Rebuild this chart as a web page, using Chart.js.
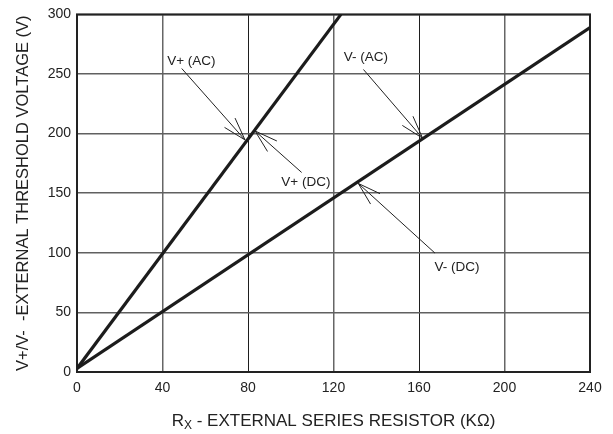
<!DOCTYPE html>
<html>
<head>
<meta charset="utf-8">
<script src="https://cdn.jsdelivr.net/npm/chart.js@4"></script>
<style>
  html, body { margin: 0; padding: 0; background: #fff; }
  canvas { display: block; }
</style>
</head>
<body>
<canvas id="vChart" width="613" height="434"></canvas>
<script>
// values
const rxPlus = [0, 123.5];
const vPlus = [3, 300];
const rxMinus = [0, 240];
const vMinus = [3, 289];

const xTicks = [0, 40, 80, 120, 160, 200, 240];
const yTicks = [0, 50, 100, 150, 200, 250, 300];

// callouts in data units: label centre, arrow tail, arrow tip
const callouts = [
  { text: 'V+ (AC)', tx: 53.5, ty: 260.7, fx: 49, fy: 254.6, px: 78.6, py: 194.7 },
  { text: 'V+ (DC)', tx: 107.1, ty: 159, fx: 105.1, fy: 167.4, px: 83.3, py: 202.2 },
  { text: 'V- (AC)', tx: 135.2, ty: 264, fx: 134, fy: 253.8, px: 161.7, py: 196.1 },
  { text: 'V- (DC)', tx: 177.8, ty: 87.7, fx: 167.5, fy: 99.7, px: 131.6, py: 158.2 }
];

const FONT = '"Liberation Sans", Arial, Helvetica, sans-serif';
const INK = '#222222';

const toPoints = (xs, ys) => xs.map((x, i) => ({ x: x, y: ys[i] }));

// frame, callouts and the x title with its subscript
const extras = {
  id: 'extras',
  beforeDatasetsDraw(chart) {
    const { ctx, chartArea: a } = chart;
    ctx.save();
    ctx.strokeStyle = INK;
    ctx.lineWidth = 2;
    ctx.strokeRect(a.left, a.top, a.right - a.left, a.bottom - a.top);
    ctx.restore();
  },
  afterDatasetsDraw(chart) {
    const { ctx, scales: { x, y }, chartArea: a } = chart;
    ctx.save();
    ctx.strokeStyle = INK;
    ctx.fillStyle = INK;
    ctx.lineWidth = 1;
    ctx.font = '13.5px ' + FONT;
    ctx.textAlign = 'center';
    ctx.textBaseline = 'middle';
    callouts.forEach(c => {
      const x0 = x.getPixelForValue(c.fx), y0 = y.getPixelForValue(c.fy);
      const x1 = x.getPixelForValue(c.px), y1 = y.getPixelForValue(c.py);
      ctx.beginPath();
      ctx.moveTo(x0, y0);
      ctx.lineTo(x1, y1);
      const ang = Math.atan2(y0 - y1, x0 - x1);
      const len = 24, spread = 17 * Math.PI / 180;
      ctx.moveTo(x1 + len * Math.cos(ang - spread), y1 + len * Math.sin(ang - spread));
      ctx.lineTo(x1, y1);
      ctx.lineTo(x1 + len * Math.cos(ang + spread), y1 + len * Math.sin(ang + spread));
      ctx.stroke();
      ctx.fillText(c.text, x.getPixelForValue(c.tx), y.getPixelForValue(c.ty));
    });

    // x axis title: R with subscript X
    const big = '17px ' + FONT, small = '12px ' + FONT;
    const rest = ' - EXTERNAL SERIES RESISTOR (K\u03A9)';
    ctx.textAlign = 'left';
    ctx.textBaseline = 'alphabetic';
    ctx.font = big;
    const wR = ctx.measureText('R').width, wRest = ctx.measureText(rest).width;
    ctx.font = small;
    const wX = ctx.measureText('X').width;
    const total = wR + wX + wRest;
    let cx = (a.left + a.right) / 2 - total / 2;
    const base = 426;
    ctx.font = big;
    ctx.fillText('R', cx, base);
    cx += wR;
    ctx.font = small;
    ctx.fillText('X', cx, base + 3);
    cx += wX;
    ctx.font = big;
    ctx.fillText(rest, cx, base);
    ctx.restore();
  }
};

new Chart(document.getElementById('vChart'), {
  type: 'line',
  data: {
    datasets: [
      { label: 'V+', data: toPoints(rxPlus, vPlus), borderColor: '#1c1c1c', borderWidth: 3.2, pointRadius: 0, fill: false },
      { label: 'V-', data: toPoints(rxMinus, vMinus), borderColor: '#1c1c1c', borderWidth: 3.2, pointRadius: 0, fill: false }
    ]
  },
  options: {
    responsive: false,
    animation: false,
    layout: { padding: { top: 13, right: 23, left: 0, bottom: 0 } },
    plugins: { legend: { display: false }, tooltip: { enabled: false } },
    scales: {
      x: {
        type: 'linear',
        min: 0,
        max: 240,
        afterBuildTicks: s => { s.ticks = xTicks.map(v => ({ value: v })); },
        afterFit: s => { s.height = 62; },
        ticks: { color: INK, font: { family: FONT, size: 14 }, padding: 8, maxRotation: 0 },
        grid: {
          drawTicks: false,
          color: c => (c.tick && (c.tick.value === 80 || c.tick.value === 160)) ? '#1e1e1e' : '#666666',
          lineWidth: c => (c.tick && (c.tick.value === 80 || c.tick.value === 160)) ? 1 : 1.5
        },
        border: { display: false }
      },
      y: {
        min: 0,
        max: 300,
        afterBuildTicks: s => { s.ticks = yTicks.map(v => ({ value: v })); },
        afterFit: s => { s.width = 77; },
        ticks: { color: INK, font: { family: FONT, size: 14 }, padding: 6 },
        grid: { drawTicks: false, color: '#606060', lineWidth: 1.5 },
        border: { display: false },
        title: {
          display: true,
          text: 'V+/V-  -EXTERNAL THRESHOLD VOLTAGE (V)',
          color: INK,
          font: { family: FONT, size: 16.5 },
          padding: { top: 14, bottom: 0 }
        }
      }
    }
  },
  plugins: [extras]
});
</script>
</body>
</html>
